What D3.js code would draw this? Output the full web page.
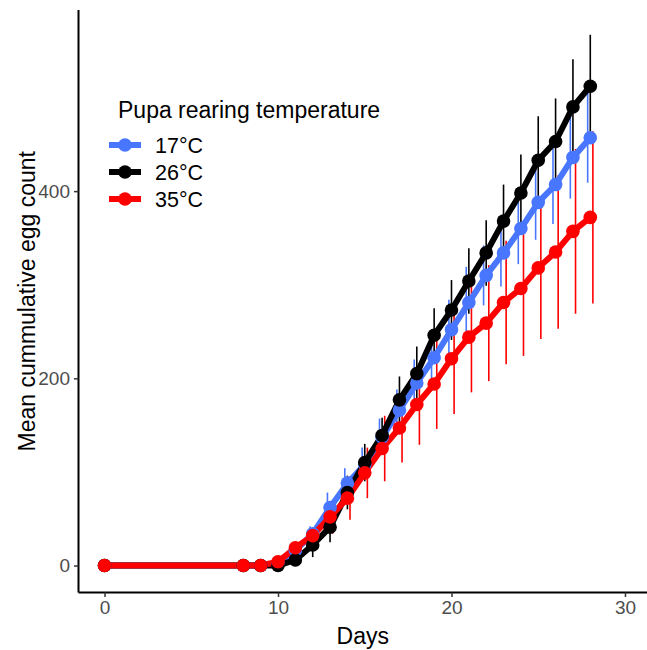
<!DOCTYPE html>
<html lang="en">
<head>
  <meta charset="UTF-8">
  <title>Cumulative egg count</title>
  <style>
    body { margin: 0; background: #fff; }
    text { font-family: "Liberation Sans", Arial, sans-serif; }
  </style>
</head>
<body>
  <svg id="svg" width="647" height="650"></svg>

  <script src="https://d3js.org/d3.v7.min.js"></script>
  <script>
    const days = [0, 8, 9, 10, 11, 12, 13, 14, 15, 16, 17, 18, 19, 20, 21, 22, 23, 24, 25, 26, 27, 28]
    const temps = ['17°C', '26°C', '35°C']
    const colors = ['#4876ff', '#000000', '#ff0000']

    const mean17 = [0, 0, 0, 2, 16, 34, 62, 88, 108, 137, 166, 195, 222, 252, 281, 310, 334, 360, 388, 407, 436, 457]
    const se17   = [0, 0, 0, 2, 5, 8, 16, 16, 18, 20, 22, 25, 28, 32, 38, 32, 36, 38, 40, 42, 44, 48]
    const mean26 = [0, 0, 0, 0, 6, 22, 41, 78, 110, 139, 177, 205, 246, 273, 304, 334, 368, 398, 433, 453, 490, 512]
    const se26   = [0, 0, 0, 2, 6, 13, 16, 18, 20, 19, 25, 29, 29, 32, 35, 35, 39, 41, 47, 46, 51, 55]
    const mean35 = [0, 0, 0, 4, 19, 32, 52, 72, 99, 125, 147, 172, 194, 221, 244, 259, 281, 296, 318, 335, 357, 372]
    const se35   = [0, 0, 0, 3, 6, 10, 18, 23, 27, 35, 37, 43, 48, 59, 59, 62, 66, 72, 76, 82, 88, 92]

    const xTicks = [0, 10, 20, 30]
    const yTicks = [0, 200, 400]

    const series = [
      { name: temps[0], color: colors[0], mean: mean17, se: se17, dodge: -0.15 },
      { name: temps[1], color: colors[1], mean: mean26, se: se26, dodge: 0 },
      { name: temps[2], color: colors[2], mean: mean35, se: se35, dodge: 0.15 }
    ]

    const padL = 78.5, padR = 651, padT = 10, padB = 592.5

    const x = d3.scaleLinear().domain([-1.5, 31.5]).range([padL, padR])
    const y = d3.scaleLinear().domain([-28.8, 593.5]).range([padB, padT])

    const svg = d3.select('#svg')

    // error bars first, then lines, then points (layer order)
    series.forEach(s => {
      svg.append('g').selectAll('line')
        .data(days.map((d, i) => ({ d, m: s.mean[i], e: s.se[i] })).filter(p => p.e > 0))
        .enter()
        .append('line')
        .attr('x1', p => x(p.d + s.dodge))
        .attr('x2', p => x(p.d + s.dodge))
        .attr('y1', p => y(p.m - p.e))
        .attr('y2', p => y(p.m + p.e))
        .attr('stroke', s.color)
        .attr('stroke-width', 1.6)
    })

    const line = d3.line().x(p => x(p[0])).y(p => y(p[1]))
    series.forEach(s => {
      svg.append('path')
        .attr('d', line(days.map((d, i) => [d, s.mean[i]])))
        .attr('fill', 'none')
        .attr('stroke', s.color)
        .attr('stroke-width', 6)
        .attr('stroke-linejoin', 'round')
    })

    series.forEach(s => {
      svg.append('g').selectAll('circle')
        .data(days.map((d, i) => [d, s.mean[i]]))
        .enter()
        .append('circle')
        .attr('cx', p => x(p[0]))
        .attr('cy', p => y(p[1]))
        .attr('r', 6.8)
        .attr('fill', s.color)
    })

    // axes
    const xAxis = svg.append('g')
      .attr('transform', `translate(0,${padB})`)
      .call(d3.axisBottom(x).tickValues(xTicks).tickSize(4.5).tickPadding(4))
    const yAxis = svg.append('g')
      .attr('transform', `translate(${padL},0)`)
      .call(d3.axisLeft(y).tickValues(yTicks).tickSize(4.5).tickPadding(4))

    ;[xAxis, yAxis].forEach(a => {
      a.select('.domain').attr('stroke', '#000').attr('stroke-width', 2)
      a.selectAll('.tick line').attr('stroke', '#333').attr('stroke-width', 1.5)
      a.selectAll('.tick text')
        .attr('fill', '#4d4d4d')
        .style('font-size', '19px')
        .style('font-family', '"Liberation Sans", Arial, sans-serif')
    })
    xAxis.select('.domain').attr('d', `M${padL},0H${padR}`)
    yAxis.select('.domain').attr('d', `M0,${padT}V${padB}`)

    svg.append('text')
      .attr('x', (padL + 647) / 2)
      .attr('y', 644)
      .attr('text-anchor', 'middle')
      .style('font-size', '23px')
      .text('Days')

    svg.append('text')
      .attr('transform', `translate(35,${(padT + padB) / 2}) rotate(-90)`)
      .attr('text-anchor', 'middle')
      .style('font-size', '23px')
      .text('Mean cummulative egg count')

    // legend
    const legend = svg.append('g')
    legend.append('text')
      .attr('x', 118)
      .attr('y', 118)
      .style('font-size', '23px')
      .text('Pupa rearing temperature')

    series.forEach((s, i) => {
      const cy = 145 + i * 27
      legend.append('line')
        .attr('x1', 109).attr('x2', 141)
        .attr('y1', cy).attr('y2', cy)
        .attr('stroke', s.color)
        .attr('stroke-width', 6)
      legend.append('circle')
        .attr('cx', 125).attr('cy', cy)
        .attr('r', 6.8)
        .attr('fill', s.color)
      legend.append('text')
        .attr('x', 155)
        .attr('y', cy + 7.5)
        .style('font-size', '21.5px')
        .text(s.name)
    })
  </script>
</body>
</html>
